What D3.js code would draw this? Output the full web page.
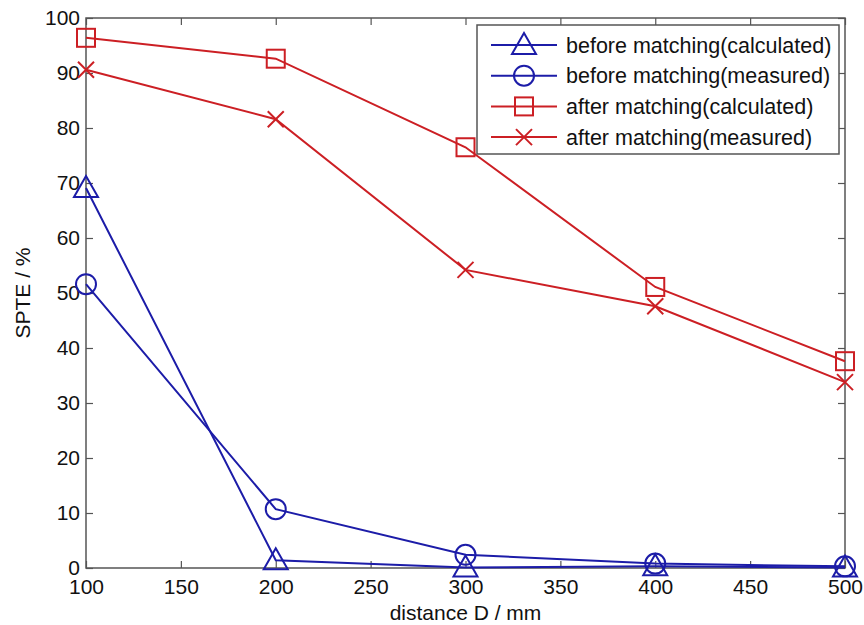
<!DOCTYPE html>
<html>
<head>
<meta charset="utf-8">
<script src="https://cdn.jsdelivr.net/npm/d3@7"></script>
<style>
  body { margin: 0; background: #fff; }
  text { font-family: "Liberation Sans", Arial, sans-serif; fill: #111; }
</style>
</head>
<body>
<svg id="chart"></svg>
<script>
const distances = [100, 200, 300, 400, 500];
const beforeCalc = [69.1, 1.4, 0.1, 0.3, 0.1];
const beforeMeas = [51.6, 10.7, 2.4, 0.8, 0.3];
const afterCalc = [96.4, 92.6, 76.5, 51.1, 37.6];
const afterMeas = [90.6, 81.6, 54.2, 47.6, 33.8];
const seriesNames = ["before matching(calculated)", "before matching(measured)",
                     "after matching(calculated)", "after matching(measured)"];
const xTicks = [100, 150, 200, 250, 300, 350, 400, 450, 500];
const yTicks = [0, 10, 20, 30, 40, 50, 60, 70, 80, 90, 100];

const width = 864, height = 625;
const margin = {left: 86, right: 19, top: 18, bottom: 57};
const blue = "#1c1ca8", red = "#cc1f24";

const svg = d3.select("#chart").attr("width", width).attr("height", height);

const x = d3.scaleLinear().domain([100, 500]).range([margin.left, width - margin.right]);
const y = d3.scaleLinear().domain([0, 100]).range([height - margin.bottom, margin.top]);

const series = [
  {name: seriesNames[0], values: beforeCalc, color: blue, marker: "triangle"},
  {name: seriesNames[1], values: beforeMeas, color: blue, marker: "circle"},
  {name: seriesNames[2], values: afterCalc, color: red, marker: "square"},
  {name: seriesNames[3], values: afterMeas, color: red, marker: "cross"}
];

// axes box with inward ticks
const axisColor = "#555";
function styleAxis(g) {
  g.select(".domain").remove();
  g.selectAll(".tick line").attr("stroke", axisColor).attr("stroke-width", 1.2);
  g.selectAll(".tick text").style("font-size", "21px").attr("fill", "#111");
}
svg.append("g")
  .attr("transform", `translate(0,${y(0)})`)
  .call(d3.axisBottom(x).tickValues(xTicks).tickSizeInner(-7).tickPadding(11))
  .call(styleAxis);
svg.append("g")
  .attr("transform", `translate(0,${y(100)})`)
  .call(d3.axisTop(x).tickValues(xTicks).tickSizeInner(-7).tickFormat(""))
  .call(styleAxis);
svg.append("g")
  .attr("transform", `translate(${x(100)},0)`)
  .call(d3.axisLeft(y).tickValues(yTicks).tickSizeInner(-7).tickPadding(6))
  .call(styleAxis);
svg.append("g")
  .attr("transform", `translate(${x(500)},0)`)
  .call(d3.axisRight(y).tickValues(yTicks).tickSizeInner(-7).tickFormat(""))
  .call(styleAxis);
svg.append("rect")
  .attr("x", x(100)).attr("y", y(100))
  .attr("width", x(500) - x(100)).attr("height", y(0) - y(100))
  .attr("fill", "none").attr("stroke", axisColor).attr("stroke-width", 1.5);

// axis titles
svg.append("text")
  .attr("x", (x(100) + x(500)) / 2).attr("y", 620)
  .attr("text-anchor", "middle").style("font-size", "21px")
  .text("distance D / mm");
svg.append("text")
  .attr("transform", `translate(30,${(y(0) + y(100)) / 2}) rotate(-90)`)
  .attr("text-anchor", "middle").style("font-size", "21px")
  .text("SPTE / %");

function drawMarker(g, type, cx, cy, color) {
  if (type === "triangle") {
    g.append("path")
      .attr("d", `M${cx},${cy - 12}L${cx + 12},${cy + 9}L${cx - 12},${cy + 9}Z`)
      .attr("fill", "none").attr("stroke", color).attr("stroke-width", 2);
  } else if (type === "circle") {
    g.append("circle").attr("cx", cx).attr("cy", cy).attr("r", 10)
      .attr("fill", "none").attr("stroke", color).attr("stroke-width", 2);
  } else if (type === "square") {
    g.append("rect").attr("x", cx - 9).attr("y", cy - 9).attr("width", 18).attr("height", 18)
      .attr("fill", "none").attr("stroke", color).attr("stroke-width", 2);
  } else {
    g.append("path")
      .attr("d", `M${cx - 8},${cy - 8}L${cx + 8},${cy + 8}M${cx - 8},${cy + 8}L${cx + 8},${cy - 8}`)
      .attr("fill", "none").attr("stroke", color).attr("stroke-width", 2);
  }
}

const line = d3.line().x((d, i) => x(distances[i])).y(d => y(d));

series.forEach(s => {
  const g = svg.append("g");
  g.append("path").attr("d", line(s.values))
    .attr("fill", "none").attr("stroke", s.color).attr("stroke-width", 2);
  s.values.forEach((v, i) => drawMarker(g, s.marker, x(distances[i]), y(v), s.color));
});

// legend
const legend = svg.append("g").attr("transform", "translate(477,25)");
legend.append("rect").attr("width", 362).attr("height", 129)
  .attr("fill", "#fff").attr("stroke", axisColor).attr("stroke-width", 1.5);
series.forEach((s, i) => {
  const row = legend.append("g").attr("transform", `translate(0,${20 + i * 30.7})`);
  row.append("line").attr("x1", 14).attr("x2", 80).attr("y1", 0).attr("y2", 0)
    .attr("stroke", s.color).attr("stroke-width", 2);
  drawMarker(row, s.marker, 47, 0, s.color);
  row.append("text").attr("x", 89).attr("y", 7.5)
    .style("font-size", "21.5px").text(s.name);
});
</script>
</body>
</html>
